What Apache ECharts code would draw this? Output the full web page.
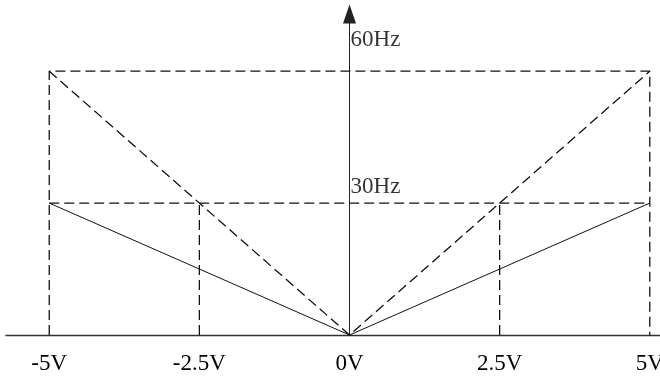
<!DOCTYPE html>
<html>
<head>
<meta charset="utf-8">
<script src="https://cdn.jsdelivr.net/npm/echarts@6/dist/echarts.min.js"></script>
<style>
  html, body { margin: 0; padding: 0; background: #fff; }
  #chart { width: 660px; height: 378px; }
</style>
</head>
<body>
<div id="chart"></div>
<script>
// 横坐标：电压
const voltTicks = [-5, -2.5, 0, 2.5, 5];
const voltLabels = ['-5V', '-2.5V', '0V', '2.5V', '5V'];
// 纵坐标：频率
const freqTicks = [30, 60];
const freqLabels = ['30Hz', '60Hz'];

// 实线：±5V -> 30Hz
const solidX = [-5, 0, 5];
const solidY = [30, 0, 30];
// 虚线：±5V -> 60Hz
const steepX = [-5, 0, 5];
const steepY = [60, 0, 60];
// 虚线外框 (60Hz)
const boxX = [-5, -5, 5, 5];
const boxY = [0, 60, 60, 0];
// 30Hz 水平虚线
const midX = [-5, 5];
const midY = [30, 30];
// ±2.5V 竖直虚线
const leftDropX = [-2.5, -2.5];
const rightDropX = [2.5, 2.5];
const dropY = [0, 30];

const pairs = (xs, ys) => xs.map((x, i) => [x, ys[i]]);
const ink = '#111';

function dashed(xs, ys) {
  return {
    type: 'line',
    data: pairs(xs, ys),
    symbol: 'none',
    silent: true,
    lineStyle: { color: ink, width: 1.3, type: [10, 5] }
  };
}

const option = {
  animation: false,
  grid: { left: 6, right: 0, top: 14, bottom: 43, outerBoundsMode: 'none', containLabel: false },
  xAxis: {
    type: 'value',
    min: -5.72,
    max: 5.17,
    axisLine: { onZero: false, lineStyle: { color: '#333', width: 1.3 } },
    axisTick: { show: false },
    splitLine: { show: false },
    axisLabel: {
      customValues: voltTicks,
      formatter: v => voltLabels[voltTicks.indexOf(v)],
      color: '#000',
      fontFamily: 'Liberation Serif',
      fontSize: 23,
      margin: 17
    }
  },
  yAxis: {
    type: 'value',
    min: 0,
    max: 73,
    axisLine: {
      show: true,
      onZero: true,
      symbol: ['none', 'triangle'],
      symbolSize: [13, 19],
      lineStyle: { color: '#222', width: 1 }
    },
    axisTick: { show: false },
    axisLabel: { show: false },
    splitLine: { show: false }
  },
  series: [
    {
      type: 'line',
      data: pairs(solidX, solidY),
      symbol: 'none',
      silent: true,
      lineStyle: { color: ink, width: 1 }
    },
    dashed(steepX, steepY),
    dashed(boxX, boxY),
    dashed(midX, midY),
    dashed(leftDropX, dropY),
    dashed(rightDropX, dropY),
    {
      // 频率标注
      type: 'scatter',
      symbolSize: 0,
      silent: true,
      data: freqTicks.map((f, i) => ({
        value: [0, f],
        label: { offset: [0, f === 60 ? -31 : -16] }
      })),
      label: {
        show: true,
        position: 'right',
        distance: 1,
        formatter: p => freqLabels[freqTicks.indexOf(p.value[1])],
        color: '#000',
        fontFamily: 'Liberation Serif',
        fontSize: 23
      }
    }
  ]
};

const myChart = echarts.init(document.getElementById('chart'));
myChart.setOption(option);
window.addEventListener('resize', () => {
  myChart.resize();
});
</script>
</body>
</html>
